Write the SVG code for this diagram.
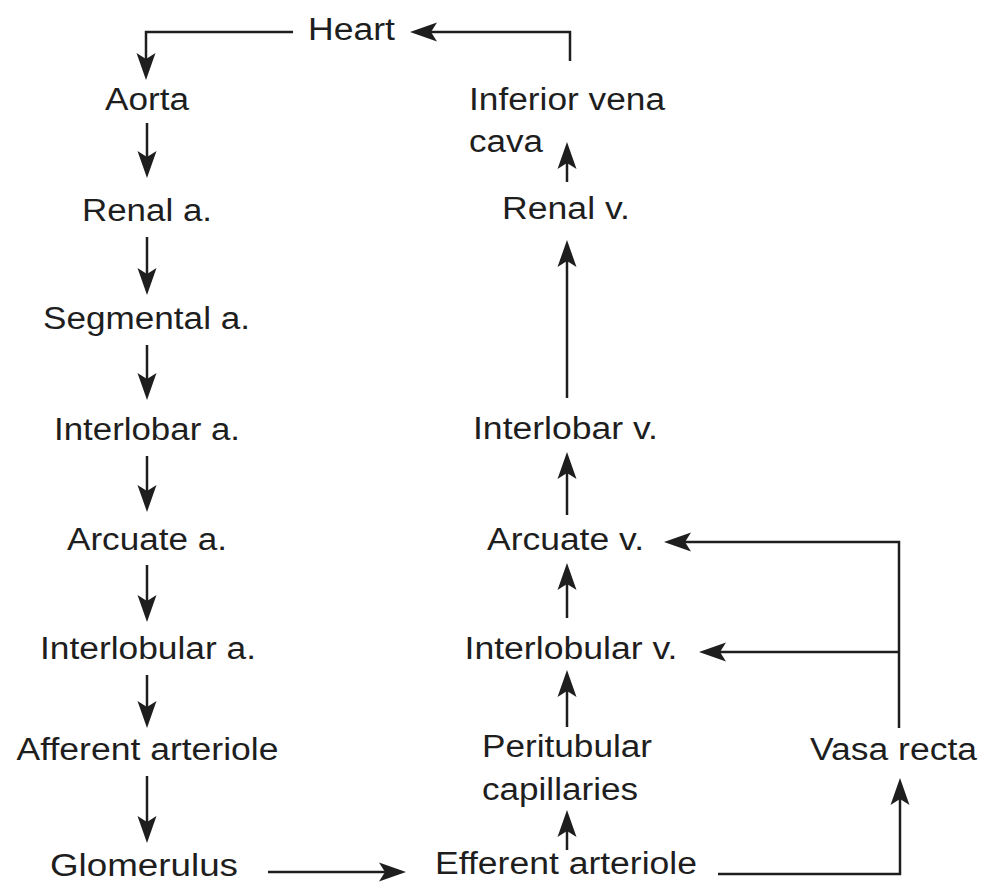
<svg xmlns="http://www.w3.org/2000/svg" width="990" height="888" viewBox="0 0 990 888">
<style>
  .lbl { font-family: "Liberation Sans", Arial, Helvetica, sans-serif; font-size: 31px; fill: #1e1e1e; }
  .mid { text-anchor: middle; }
  .con { fill: none; stroke: #1e1e1e; stroke-width: 2.5; marker-end: url(#arrow); }
</style>
<defs>
  <marker id="arrow" markerUnits="userSpaceOnUse" markerWidth="40" markerHeight="40" refX="0" refY="0" orient="auto" overflow="visible">
    <path d="M8,0 L-19,-9.5 L-13,0 L-19,9.5 Z" fill="#1e1e1e"/>
  </marker>
</defs>
<rect width="990" height="888" fill="#fff"/>

<g id="connectors">
  <path class="con" d="M293,32 H146 V72"/>
  <path class="con" d="M570,61 V32 H418"/>
  <path class="con" d="M147,123 V170"/>
  <path class="con" d="M147,237 V287"/>
  <path class="con" d="M147,345 V392"/>
  <path class="con" d="M147,456 V504"/>
  <path class="con" d="M147,565 V614"/>
  <path class="con" d="M147,675 V720"/>
  <path class="con" d="M147,776 V835"/>
  <path class="con" d="M268,872 H398"/>
  <path class="con" d="M567,850 V818"/>
  <path class="con" d="M567,727 V678"/>
  <path class="con" d="M567,618 V571"/>
  <path class="con" d="M567,515 V460"/>
  <path class="con" d="M567,398 V248"/>
  <path class="con" d="M567,182 V150"/>
  <path class="con" d="M718,874 H900 V786"/>
  <path class="con" d="M899,728 V542 H672"/>
  <path class="con" d="M899,652 H707"/>
</g>

<g id="heart"><text class="lbl mid" x="351.5" y="40" textLength="87" lengthAdjust="spacingAndGlyphs">Heart</text></g>
<g id="aorta"><text class="lbl mid" x="147" y="110" textLength="84" lengthAdjust="spacingAndGlyphs">Aorta</text></g>
<g id="renal-a"><text class="lbl mid" x="147" y="221" textLength="130" lengthAdjust="spacingAndGlyphs">Renal a.</text></g>
<g id="segmental-a"><text class="lbl mid" x="146.5" y="329" textLength="207" lengthAdjust="spacingAndGlyphs">Segmental a.</text></g>
<g id="interlobar-a"><text class="lbl mid" x="147" y="440" textLength="186" lengthAdjust="spacingAndGlyphs">Interlobar a.</text></g>
<g id="arcuate-a"><text class="lbl mid" x="147" y="550" textLength="160" lengthAdjust="spacingAndGlyphs">Arcuate a.</text></g>
<g id="interlobular-a"><text class="lbl mid" x="148" y="659" textLength="216" lengthAdjust="spacingAndGlyphs">Interlobular a.</text></g>
<g id="afferent-arteriole"><text class="lbl mid" x="147.5" y="760" textLength="262" lengthAdjust="spacingAndGlyphs">Afferent arteriole</text></g>
<g id="glomerulus"><text class="lbl mid" x="144" y="876" textLength="188" lengthAdjust="spacingAndGlyphs">Glomerulus</text></g>

<g id="inferior-vena-cava">
  <text class="lbl" x="469" y="110" textLength="196" lengthAdjust="spacingAndGlyphs">Inferior vena</text>
  <text class="lbl" x="469" y="152" textLength="74" lengthAdjust="spacingAndGlyphs">cava</text>
</g>
<g id="renal-v"><text class="lbl mid" x="566" y="219" textLength="128" lengthAdjust="spacingAndGlyphs">Renal v.</text></g>
<g id="interlobar-v"><text class="lbl mid" x="565.5" y="439" textLength="185" lengthAdjust="spacingAndGlyphs">Interlobar v.</text></g>
<g id="arcuate-v"><text class="lbl mid" x="565.5" y="550" textLength="157" lengthAdjust="spacingAndGlyphs">Arcuate v.</text></g>
<g id="interlobular-v"><text class="lbl mid" x="571" y="659" textLength="213" lengthAdjust="spacingAndGlyphs">Interlobular v.</text></g>
<g id="peritubular-capillaries">
  <text class="lbl" x="482" y="757" textLength="170" lengthAdjust="spacingAndGlyphs">Peritubular</text>
  <text class="lbl" x="482" y="800" textLength="156" lengthAdjust="spacingAndGlyphs">capillaries</text>
</g>
<g id="efferent-arteriole"><text class="lbl mid" x="566" y="874" textLength="262" lengthAdjust="spacingAndGlyphs">Efferent arteriole</text></g>
<g id="vasa-recta"><text class="lbl mid" x="893.5" y="760" textLength="167" lengthAdjust="spacingAndGlyphs">Vasa recta</text></g>
</svg>
